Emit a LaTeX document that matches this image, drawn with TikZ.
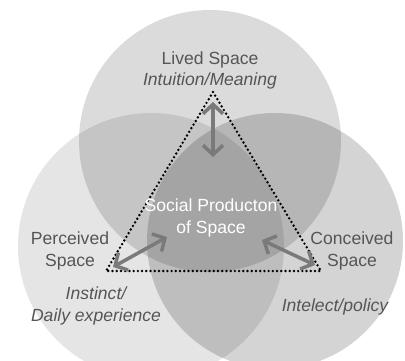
\documentclass[tikz,border=0pt]{standalone}
\usepackage{fontspec}
\setmainfont{Liberation Sans}
\usepackage{xcolor}
\usepackage{tikz}
\usetikzlibrary{arrows.meta}
\definecolor{labelgray}{RGB}{85,85,85}
\definecolor{arrowgray}{RGB}{122,122,122}

\begin{document}
\begin{tikzpicture}[
  x=0.03cm, y=-0.03cm,
  spacecircle/.style={fill=black, fill opacity=#1},
  lbl/.style={text=labelgray, align=center, inner sep=0pt,
              font=\fontsize{15}{18.5}\selectfont},
  ilbl/.style={lbl, font=\fontsize{15}{18.5}\selectfont\itshape},
  arrow/.style={{Straight Barb[length=2.8mm,width=6mm]}-{Straight Barb[length=2.8mm,width=6mm]},
               line width=3pt, color=arrowgray},
  dotline/.style={line width=2.3pt, dash pattern=on 0pt off 3.6pt, line cap=round}
]
\useasboundingbox (0,0) rectangle (405,360);

% the three spaces
\fill[spacecircle=0.10] (151,246) circle[radius=133];
\fill[spacecircle=0.14] (210,141) circle[radius=131];
\fill[spacecircle=0.17] (275,241) circle[radius=128];

% triangle of social production
\coordinate (apex) at (213,92);
\coordinate (left) at (106,271);
\coordinate (right) at (321,271);
\draw[dotline] (apex) -- (left) -- (right) -- cycle;

\coordinate (livedtip) at (213,102);
\coordinate (livedin) at (213,157);
\coordinate (perctip) at (113,267);
\coordinate (percin) at (167,237);
\coordinate (conctip) at (315,265);
\coordinate (concin) at (262,240);
\draw[arrow] (livedtip) -- (livedin);
\draw[arrow] (perctip) -- (percin);
\draw[arrow] (conctip) -- (concin);

\node[lbl] (lived) at (210,70.5) {Lived Space\\\textit{Intuition/Meaning}};
\node[lbl] (perceived) at (70,251) {Perceived\\Space};
\node[ilbl] (instinct) at (96,306) {Instinct/\\Daily experience};
\node[lbl] (conceived) at (352,251) {Conceived\\Space};
\node[ilbl] (intelect) at (335,307) {Intelect/policy};
\node[lbl, text=white] (social) at (211,218) {Social Producton\\of Space};

\end{tikzpicture}
\end{document}
